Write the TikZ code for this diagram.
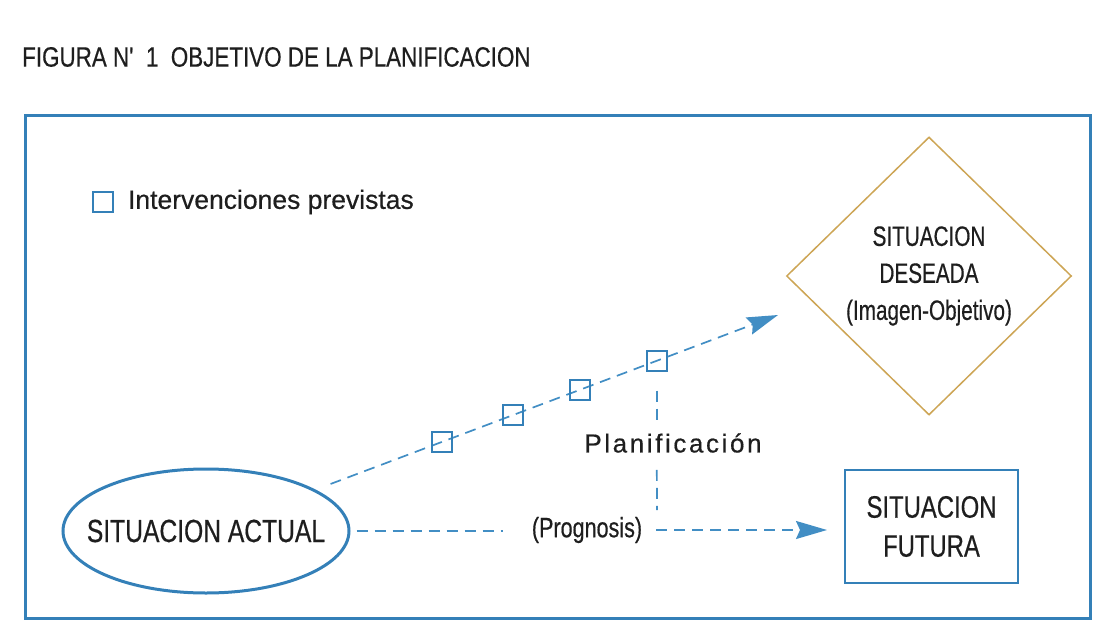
\documentclass[tikz,border=0pt]{standalone}
\usepackage{fontspec}
\setmainfont{Liberation Sans}[FakeBold=0.5]
\newfontfamily\titlefont{Liberation Sans}[FakeStretch=0.8,FakeBold=0.5]
\newfontfamily\condfont{Liberation Sans}[FakeStretch=0.77,FakeBold=0.5]
\newfontfamily\narrowfont{Liberation Sans}[FakeStretch=0.74,FakeBold=0.5]
\newfontfamily\widefont{Liberation Sans}[LetterSpace=10,FakeBold=0.5]
\usepackage{tikz}
\usetikzlibrary{shapes.geometric, arrows.meta, positioning}
\definecolor{frameblue}{RGB}{52,128,184}
\definecolor{dashblue}{RGB}{66,142,196}
\definecolor{diamondgold}{RGB}{205,165,85}
\definecolor{inkgray}{RGB}{30,30,30}

\begin{document}
\begin{tikzpicture}[x=1pt,y=1pt,yscale=-1,
  txt/.style={text=inkgray, inner sep=0pt},
  dashline/.style={draw=dashblue, line width=1.7pt, dash pattern=on 11pt off 7pt},
  headarrow/.style={-{Stealth[length=31pt,width=18pt,inset=4pt]}},
  intsq/.style={draw=frameblue, line width=1.7pt, minimum size=20pt, inner sep=0pt}]
\useasboundingbox (0,0) rectangle (1119,634);

% Title
\node[txt, anchor=west, font={\titlefont\fontsize{28}{32}\selectfont}] (title) at (22,57) {FIGURA N' \ 1 \ OBJETIVO DE LA PLANIFICACION};
% Frame
\draw[frameblue, line width=3pt] (25,115) rectangle (1090,618);

% Legend
\node[intsq] (legsq) at (103,202) {};
\node[txt, right=14pt of legsq, font={\fontsize{26.5}{30}\selectfont}] (legtxt) {Intervenciones previstas};

% Situations
\node[draw=frameblue, line width=3pt, ellipse, minimum width=286pt, minimum height=124pt, inner sep=0pt] (actual) at (206,531) {};
\node[txt, font={\condfont\fontsize{32}{36}\selectfont}] (actualtxt) at (actual.center) {SITUACION ACTUAL};
\node[txt, draw=diamondgold, line width=1.5pt, diamond, minimum width=285pt, minimum height=278pt, align=center, font={\narrowfont\fontsize{28}{37}\selectfont}] (deseada) at (929,276) {SITUACION\\DESEADA\\(Imagen-Objetivo)};
\node[txt, draw=frameblue, line width=2pt, minimum width=173pt, minimum height=113pt, align=center, font={\condfont\fontsize{31}{39}\selectfont}] (futura) at (931.5,526.5) {SITUACION\\FUTURA};

% Free ends
\coordinate (tipup) at (778,315);
\coordinate (vend) at (657,510);

% Labels
\node[txt, font={\condfont\fontsize{28}{30}\selectfont}] (prog) at (587,530) {(Prognosis)};
\node[txt, font={\widefont\fontsize{26}{30}\selectfont}] (plan) at (673,443) {Planificación};

% Connectors
\draw[dashline, headarrow, shorten <=16pt] (actual) -- (tipup);
\draw[dashline, shorten <=6pt, shorten >=29pt] (actual.east) -- (actual.east -| prog.west);
\draw[dashline, headarrow, shorten <=14pt, shorten >=17pt] (prog.east) -- (futura.west |- prog.east);

% Intervenciones
\foreach \p [count=\i] in {0.413,0.537,0.654,0.788}
  \path (actual.center) -- (tipup) node[intsq, pos=\p] (sq\i) {};

\draw[dashline, shorten <=19pt, shorten >=10pt] (sq4.south) -- (sq4.south |- plan.north);
\draw[dashline, shorten <=17pt] (sq4.south |- plan.south) -- (vend);

\end{tikzpicture}
\end{document}
